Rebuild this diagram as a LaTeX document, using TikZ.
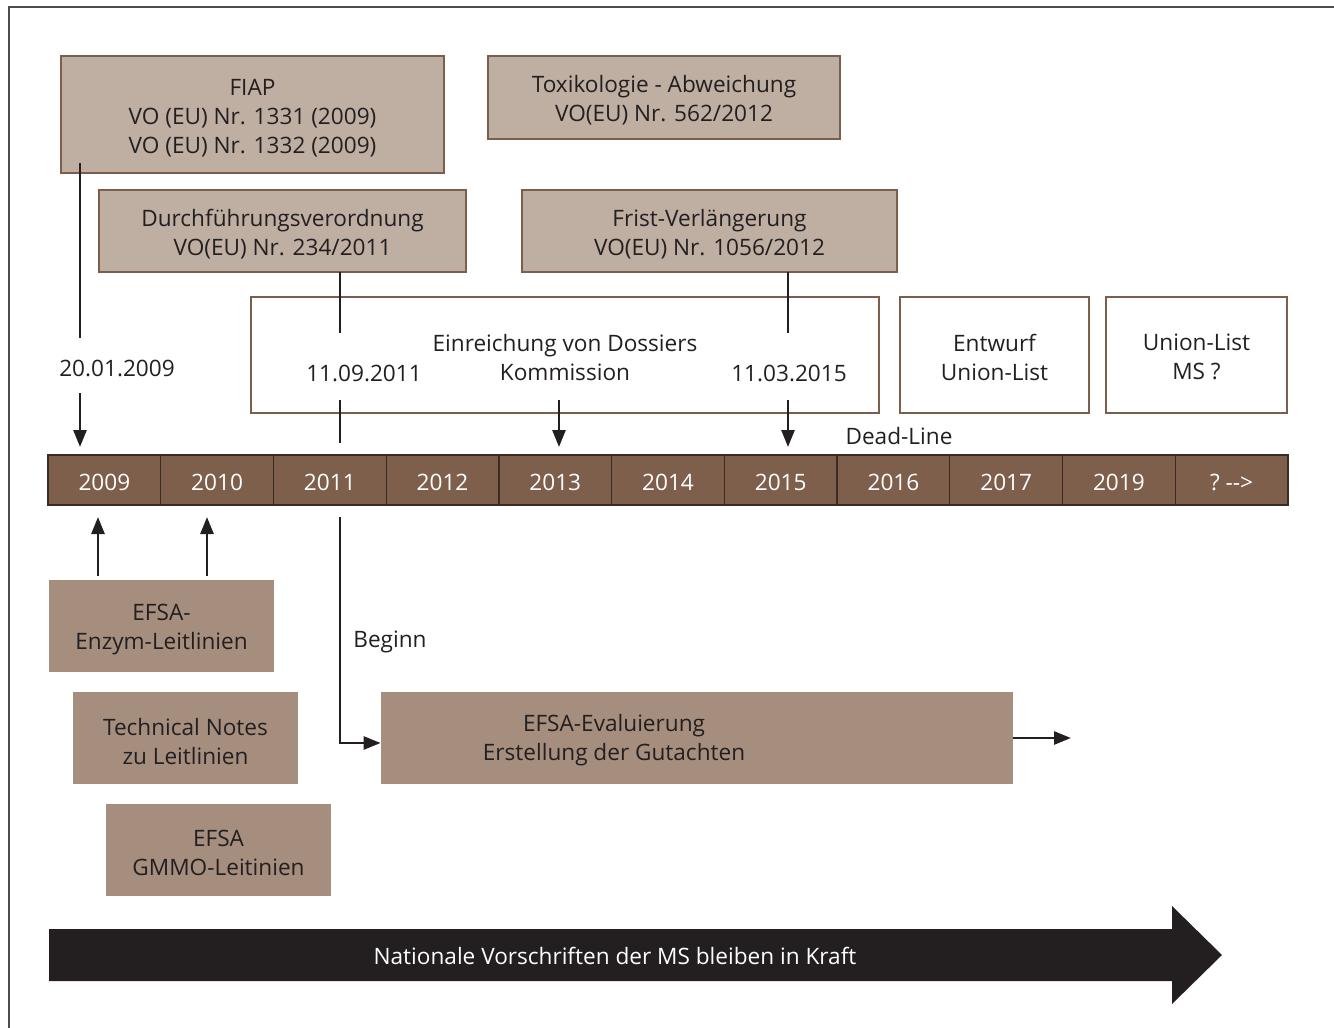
\documentclass[tikz,border=0pt]{standalone}
\usepackage{fontspec}
\setmainfont{Open Sans}
\usetikzlibrary{arrows.meta}
\definecolor{txt}{HTML}{231F20}
\definecolor{lightbox}{HTML}{BFAFA2}
\definecolor{brownline}{HTML}{7D5E4B}
\definecolor{barfill}{HTML}{7E5F4C}
\definecolor{bardiv}{HTML}{3A2C25}
\definecolor{darkbox}{HTML}{A68E7E}
\definecolor{blackarrow}{HTML}{231F20}
\begin{document}
\begin{tikzpicture}[x=0.5pt,y=-0.5pt,
  every node/.style={font=\fontsize{11.3}{14.5}\selectfont, text=txt, align=center, inner sep=0pt},
  bt/.style={yshift=-1.6pt},
  lbox/.style={draw=brownline, line width=1.3pt, fill=lightbox},
  wbox/.style={draw=brownline, line width=1.3pt, fill=white},
  dbox/.style={fill=darkbox, minimum width=112.5pt, minimum height=46pt},
  cell/.style={draw=bardiv, line width=0.6pt, fill=barfill, minimum width=56.36pt, minimum height=25pt},
  conn/.style={line width=1.3pt, draw=txt},
  arr/.style={conn, -{Triangle[length=8.5pt,width=6.5pt]}}
]
\useasboundingbox (0,0) rectangle (1334,1028);
% frame
\draw[line width=0.8pt, draw=txt!80] (9,1028) -- (9,7) -- (1334,7);

% top boxes
\node[lbox, minimum width=191.5pt, minimum height=58.5pt] (fiap) at (252.5,114.5) {};
\node[bt] (fiapt) at (fiap) {FIAP\\VO (EU) Nr. 1331 (2009)\\VO (EU) Nr. 1332 (2009)};
\node[lbox, minimum width=176pt, minimum height=41.5pt] (tox) at (664,97.5) {};
\node[bt] (toxt) at (tox) {Toxikologie - Abweichung\\VO(EU) Nr. 562/2012};
\node[lbox, minimum width=183.5pt, minimum height=41pt] (durch) at (282.5,231) {};
\node[bt] (durcht) at (durch) {Durchführungsverordnung\\VO(EU) Nr. 234/2011};
\node[lbox, minimum width=187.5pt, minimum height=41pt] (frist) at (709.5,231) {};
\node[bt] (fristt) at (frist) {Frist-Verlängerung\\VO(EU) Nr. 1056/2012};

% middle boxes
\node[wbox, minimum width=314pt, minimum height=58pt] (einr) at (565,355) {};
\node[bt] (einrtxt) at (565,354.5) {Einreichung von Dossiers\\Kommission};
\node[bt] (d2011) at (364,370) {11.09.2011};
\node[bt] (d2015) at (789,370) {11.03.2015};
\node[wbox, minimum width=94.5pt, minimum height=58pt] (entw) at (994.5,355) {};
\node[bt] (entwt) at (994.5,354) {Entwurf\\Union-List};
\node[wbox, minimum width=90.5pt, minimum height=58pt] (ulms) at (1196.5,355) {};
\node[bt] (ulmst) at (1196.5,354) {Union-List\\MS ?};

\node[bt] (d2009) at (117,365) {20.01.2009};
\node[bt] (dead) at (899,433) {Dead-Line};

% timeline
\foreach \lab [count=\i from 0] in {2009,2010,2011,2012,2013,2014,2015,2016,2017,2019,{?\ \mbox{-}\mbox{-}\mbox{>}}}{
  \node[cell] (c\i) at ({48+112.727*(\i+0.5)},480) {};
  \node[bt, text=white] (c\i t) at ([yshift=0.5pt]c\i) {\lab};
}

% lower boxes
\node[dbox] (enzym) at (161.5,626) {};
\node[bt] (enzymt) at (enzym) {EFSA-\\Enzym-Leitlinien};
\node[dbox] (tech) at (185.5,738) {};
\node[bt] (techt) at (tech) {Technical Notes\\zu Leitlinien};
\node[dbox] (gmmo) at (218.5,850) {};
\node[bt] (gmmot) at (gmmo) {EFSA\\GMMO-Leitinien};
\node[fill=darkbox, minimum width=316pt, minimum height=46pt] (eval) at (697,738) {};
\node[bt] (evalt) at (614,737) {EFSA-Evaluierung\\Erstellung der Gutachten};
\node[bt] (beginn) at (390,639) {Beginn};

% connectors
\coordinate (fa) at (80,163);
\coordinate (fb) at (80,338);
\coordinate (fc) at (80,393);
\coordinate (fd) at (80,447);
\draw[conn] (fa) -- (fb);
\draw[arr] (fc) -- (fd);

\coordinate (da) at (340,272);
\coordinate (db) at (340,333);
\coordinate (dc) at (340,400);
\coordinate (dd) at (340,443);
\draw[conn] (da) -- (db);
\draw[conn] (dc) -- (dd);

\coordinate (ra) at (788,272);
\coordinate (rb) at (788,333);
\coordinate (rc) at (788,400);
\coordinate (rd) at (788,447);
\draw[conn] (ra) -- (rb);
\draw[arr] (rc) -- (rd);

\coordinate (ea) at (559,400);
\coordinate (eb) at (559,447);
\draw[arr] (ea) -- (eb);

\coordinate (ua) at (98,576);
\coordinate (ub) at (98,517);
\coordinate (va) at (207,576);
\coordinate (vb) at (207,517);
\draw[arr] (ua) -- (ub);
\draw[arr] (va) -- (vb);

\coordinate (ba) at (340,517);
\coordinate (bb) at (340,743);
\draw[arr] (ba) -- (bb) -- (eval.west |- bb);

\coordinate (ez) at (1071,738);
\draw[arr] (eval.east) -- (ez);

% big arrow
\fill[blackarrow] (49,929) -- (1172,929) -- (1172,906) -- (1222,955) -- (1172,1004) -- (1172,981) -- (49,981) -- cycle;
\node[bt, text=white] (nat) at (615,953) {Nationale Vorschriften der MS bleiben in Kraft};
\end{tikzpicture}
\end{document}
